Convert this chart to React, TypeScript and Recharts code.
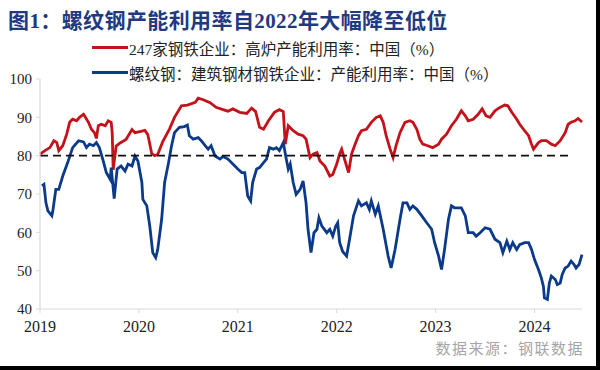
import { LineChart, Line, XAxis, YAxis } from 'recharts';

// 247家钢铁企业：高炉产能利用率 (%), [年份, 数值]
const blastFurnace: [number, number][] = [
  [2019.0, 80.4], [2019.05, 81.3], [2019.1, 82.1], [2019.14, 83.9], [2019.17, 83.4], [2019.19, 81.3],
  [2019.23, 82.6], [2019.27, 85.6], [2019.3, 88.7], [2019.33, 89.5], [2019.37, 89.1], [2019.4, 90],
  [2019.44, 90.8], [2019.45, 90.4], [2019.49, 88.7], [2019.52, 86.9], [2019.55, 86], [2019.57, 84.5],
  [2019.59, 87.8], [2019.62, 88.2], [2019.66, 87.8], [2019.69, 89.1], [2019.72, 88.7], [2019.73, 86],
  [2019.74, 76.3], [2019.77, 82.5], [2019.81, 83.3], [2019.87, 84.2], [2019.93, 86.8], [2019.96, 86],
  [2020.01, 86.3], [2020.06, 86.6], [2020.09, 85.5], [2020.13, 80.5], [2020.16, 80], [2020.19, 80.3],
  [2020.24, 83.6], [2020.31, 87], [2020.36, 90], [2020.43, 93], [2020.49, 93.2], [2020.57, 93.9],
  [2020.6, 95], [2020.65, 94.6], [2020.72, 93.8], [2020.78, 92.6], [2020.85, 92], [2020.9, 91.6],
  [2020.95, 92.2], [2021.02, 91.3], [2021.09, 91], [2021.14, 92.4], [2021.18, 91.5], [2021.22, 87.4],
  [2021.26, 86.9], [2021.31, 89.1], [2021.37, 91.3], [2021.42, 92], [2021.46, 91.5], [2021.48, 83],
  [2021.51, 87.8], [2021.56, 86.5], [2021.61, 85.6], [2021.66, 85.2], [2021.69, 84.3], [2021.73, 79.5],
  [2021.76, 80.4], [2021.8, 80.8], [2021.83, 78.6], [2021.88, 77.3], [2021.93, 74.7], [2021.96, 75.1],
  [2022.0, 77.8], [2022.03, 80.5], [2022.05, 81.7], [2022.08, 79], [2022.12, 75.6], [2022.15, 80.4],
  [2022.18, 82.6], [2022.22, 85.2], [2022.25, 86.5], [2022.3, 86.9], [2022.35, 88.7], [2022.4, 90],
  [2022.44, 90.4], [2022.47, 88.7], [2022.5, 85.2], [2022.54, 81.7], [2022.57, 79.5], [2022.6, 82.6],
  [2022.64, 86], [2022.69, 88.7], [2022.74, 89.1], [2022.77, 88.7], [2022.81, 86.9], [2022.84, 84.3],
  [2022.87, 83], [2022.92, 82.6], [2022.97, 82.1], [2023.03, 83], [2023.06, 84.3], [2023.11, 85.6],
  [2023.16, 87.8], [2023.21, 89.5], [2023.26, 91.7], [2023.3, 90.4], [2023.33, 89.1], [2023.38, 89.5],
  [2023.43, 90.8], [2023.47, 92.2], [2023.51, 90.4], [2023.55, 90], [2023.6, 91.7], [2023.65, 92.6],
  [2023.7, 93.2], [2023.73, 93], [2023.77, 91.3], [2023.82, 89.5], [2023.85, 88.2], [2023.9, 86.5],
  [2023.94, 85.2], [2023.97, 83], [2023.99, 81.7], [2024.04, 83.4], [2024.07, 83.9], [2024.12, 83.9],
  [2024.17, 83], [2024.21, 82.6], [2024.26, 83.9], [2024.31, 86], [2024.34, 88.2], [2024.37, 88.7],
  [2024.41, 89.1], [2024.44, 89.7], [2024.48, 88.8],
];

// 螺纹钢：建筑钢材钢铁企业：产能利用率 (%)
const rebar: [number, number][] = [
  [2019.02, 72.1], [2019.04, 72.5], [2019.06, 67.7], [2019.08, 65.6], [2019.12, 64.3], [2019.13, 65.6],
  [2019.16, 71.2], [2019.19, 71.2], [2019.23, 74.7], [2019.28, 78.2], [2019.33, 82.1], [2019.39, 83.9],
  [2019.44, 83.6], [2019.47, 82.1], [2019.5, 83], [2019.54, 82.6], [2019.57, 83.4], [2019.6, 82.1],
  [2019.64, 78.6], [2019.67, 75.6], [2019.71, 73.8], [2019.72, 76.9], [2019.75, 68.8], [2019.78, 76.5],
  [2019.82, 77.3], [2019.86, 76], [2019.89, 77.8], [2019.93, 77.3], [2019.96, 79.9], [2019.99, 78.6],
  [2020.03, 73], [2020.04, 68.6], [2020.08, 66.9], [2020.11, 61.6], [2020.14, 54.7], [2020.17, 53.4],
  [2020.19, 55.5], [2020.23, 63.4], [2020.26, 73], [2020.3, 78.2], [2020.33, 82.6], [2020.36, 86],
  [2020.41, 87.4], [2020.46, 87.6], [2020.49, 88], [2020.51, 85.2], [2020.55, 84.3], [2020.6, 84.7],
  [2020.63, 83.9], [2020.67, 82.6], [2020.7, 81.7], [2020.73, 82.6], [2020.77, 79.9], [2020.82, 79.1],
  [2020.85, 79.8], [2020.9, 79.1], [2020.95, 77.8], [2021.0, 76.5], [2021.04, 75.6], [2021.07, 75.6],
  [2021.1, 69.5], [2021.13, 68.2], [2021.15, 73], [2021.19, 76.5], [2021.22, 76.9], [2021.26, 78.2],
  [2021.29, 79.1], [2021.32, 82.1], [2021.36, 81.7], [2021.39, 82.1], [2021.42, 81.3], [2021.46, 83.4],
  [2021.49, 79.1], [2021.51, 76.5], [2021.53, 77.8], [2021.56, 73], [2021.59, 69.9], [2021.63, 71.2],
  [2021.66, 73.4], [2021.69, 67.7], [2021.71, 60.8], [2021.74, 54.7], [2021.77, 59.9], [2021.8, 60.8],
  [2021.82, 63.8], [2021.85, 61.6], [2021.9, 59.9], [2021.93, 60.8], [2021.96, 59], [2021.99, 61.6],
  [2022.01, 62.5], [2022.03, 57.3], [2022.06, 55], [2022.1, 53.8], [2022.13, 58.2], [2022.17, 64.3],
  [2022.22, 68.2], [2022.25, 66.9], [2022.3, 67.7], [2022.33, 66], [2022.35, 68.2], [2022.39, 64.7],
  [2022.42, 66.9], [2022.47, 60.8], [2022.52, 53.8], [2022.55, 50.7], [2022.59, 55.5], [2022.64, 63.4],
  [2022.67, 67.7], [2022.71, 67.7], [2022.74, 66], [2022.77, 66.9], [2022.81, 66], [2022.86, 64.3],
  [2022.91, 62.5], [2022.96, 60.8], [2022.99, 57.3], [2023.03, 53.8], [2023.06, 50.3], [2023.09, 55.5],
  [2023.13, 63.4], [2023.16, 66.9], [2023.19, 66.4], [2023.23, 66.4], [2023.26, 66.4], [2023.3, 64.3],
  [2023.33, 59.9], [2023.38, 59.9], [2023.41, 59], [2023.45, 59.9], [2023.5, 61.2], [2023.55, 60.8],
  [2023.6, 58.2], [2023.65, 57.3], [2023.68, 54.7], [2023.72, 57.7], [2023.75, 55.5], [2023.78, 57.3],
  [2023.82, 55.5], [2023.85, 56.8], [2023.9, 57.3], [2023.94, 57.3], [2023.97, 55.5], [2024.0, 52.9],
  [2024.04, 50.3], [2024.07, 48], [2024.09, 45.9], [2024.1, 42.9], [2024.13, 42.5], [2024.15, 46.8],
  [2024.17, 48.6], [2024.21, 47.7], [2024.23, 46.4], [2024.26, 46.8], [2024.28, 49], [2024.31, 50.7],
  [2024.34, 51.2], [2024.37, 52.5], [2024.4, 51.6], [2024.42, 50.7], [2024.45, 51.6], [2024.48, 54.2],
];

// 80% 参考线
const refLine: [number, number][] = [[2019.0, 80], [2024.37, 80]];

const xTicks = [2019, 2020, 2021, 2022, 2023, 2024];
const yTicks = [40, 50, 60, 70, 80, 90, 100];

const seriesNames = ['247家钢铁企业：高炉产能利用率：中国（%）', '螺纹钢：建筑钢材钢铁企业：产能利用率：中国（%）'];
const seriesColors = ['#C4121A', '#0B3A8A'];

const toRows = (arr: [number, number][]) => arr.map(([t, v]) => ({ t, v }));

const serif = '"Liberation Serif", "Noto Sans CJK SC", serif';

export default function App() {
  return (
    <div style={{ position: 'fixed', left: 0, top: 0, width: 600, height: 370, background: '#fff', overflow: 'hidden' }}>
      <div
        style={{
          position: 'absolute', left: 8, top: 4, fontSize: 21, fontWeight: 700, letterSpacing: 0.4,
          color: '#1F3A80', fontFamily: serif, whiteSpace: 'nowrap',
        }}
      >
        图1：螺纹钢产能利用率自2022年大幅降至低位
      </div>
      <LineChart width={600} height={370} margin={{ top: 79, right: 18, bottom: 0, left: 8 }}>
        <XAxis
          type="number"
          dataKey="t"
          domain={[2019, 2024.48]}
          ticks={xTicks}
          interval={0}
          allowDuplicatedCategory={false}
          tick={{ fontSize: 16, fill: '#222', fontFamily: serif }}
          tickFormatter={(v) => String(v)}
          axisLine={{ stroke: '#D9D9D9', strokeWidth: 1.2 }}
          tickLine={{ stroke: '#D9D9D9' }}
          tickSize={4}
          tickMargin={8}
          height={61}
        />
        <YAxis
          type="number"
          domain={[40, 100]}
          ticks={yTicks}
          interval={0}
          width={32}
          tick={{ fontSize: 15, fill: '#222', fontFamily: serif }}
          axisLine={{ stroke: '#D9D9D9', strokeWidth: 1.2 }}
          tickLine={{ stroke: '#D9D9D9' }}
          tickSize={4}
          tickMargin={4}
        />
        <Line data={toRows(blastFurnace)} dataKey="v" stroke={seriesColors[0]} strokeWidth={2.8} dot={false} isAnimationActive={false} />
        <Line data={toRows(rebar)} dataKey="v" stroke={seriesColors[1]} strokeWidth={2.8} dot={false} isAnimationActive={false} />
        <Line data={toRows(refLine)} dataKey="v" stroke="#111" strokeWidth={1.8} strokeDasharray="8 5" dot={false} isAnimationActive={false} />
      </LineChart>
      {/* legend */}
      <div style={{ position: 'absolute', left: 92, top: 35, fontFamily: serif, fontSize: 15.5, color: '#222' }}>
        {seriesNames.map((name, i) => (
          <div key={name} style={{ display: 'flex', alignItems: 'center', height: 25, whiteSpace: 'nowrap' }}>
            <span style={{ display: 'inline-block', width: 36, height: 3, background: seriesColors[i], marginRight: 1 }} />
            <span>{name}</span>
          </div>
        ))}
      </div>
      <div
        style={{
          position: 'absolute', right: 16, top: 337, fontSize: 15, color: '#A6A6A6', letterSpacing: 1.5,
          fontFamily: '"Noto Sans CJK SC", sans-serif',
        }}
      >
        数据来源：钢联数据
      </div>
      <div style={{ position: 'absolute', right: 0, top: 0, width: 4, height: 370, background: '#000' }} />
      <div style={{ position: 'absolute', left: 0, bottom: 0, width: 600, height: 4, background: '#000' }} />
    </div>
  );
}
